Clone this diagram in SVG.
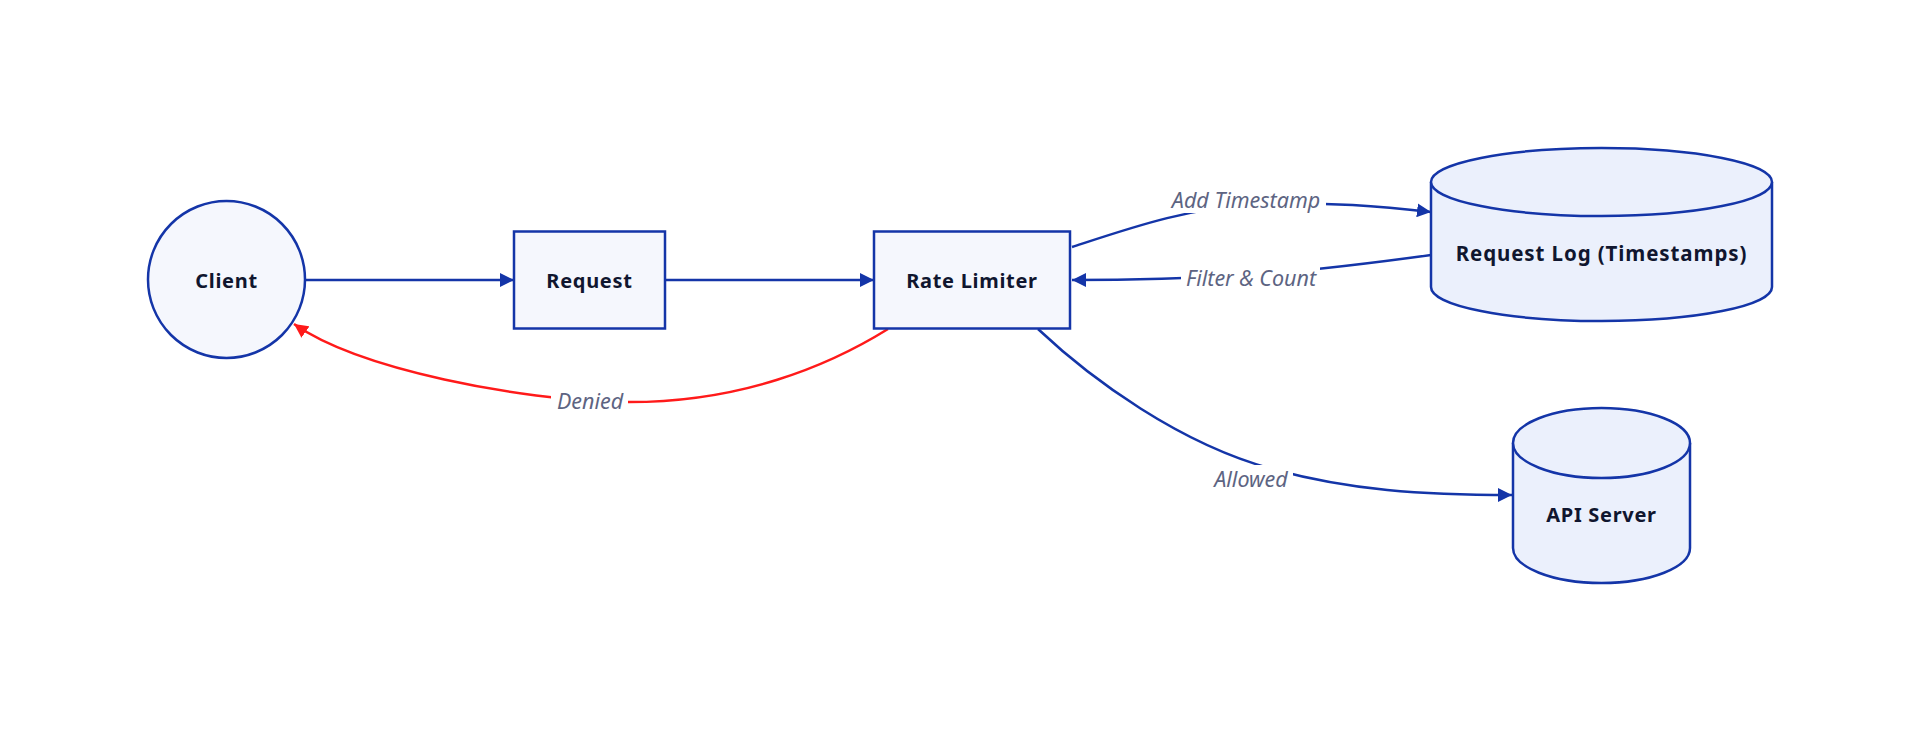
<svg xmlns="http://www.w3.org/2000/svg" width="1920" height="731" viewBox="0 0 1920 731">
<style>
.node{fill:#f5f7fd;stroke:#1435a8;stroke-width:2.5}
.db{fill:#ebf0fc;stroke:#1435a8;stroke-width:2.5}
.nt{font-family:"Source Sans Pro","Noto Sans",sans-serif;font-weight:bold;font-size:20px;fill:#10162f;text-anchor:middle;dominant-baseline:central;letter-spacing:0.7px}
.e{fill:none;stroke:#1435a8;stroke-width:2.5}
.red{fill:none;stroke:#ff1a1a;stroke-width:2.5}
.lb{fill:#ffffff}
.lt{font-family:"Source Sans Pro","Noto Sans",sans-serif;font-style:italic;font-size:21.5px;fill:#5d6482;text-anchor:middle;dominant-baseline:central}
</style>
<defs>
<marker id="ab" viewBox="0 0 14 14" refX="14" refY="7" markerWidth="14" markerHeight="14" markerUnits="userSpaceOnUse" orient="auto">
<path d="M0,0 L14,7 L0,14 Z" fill="#1435a8"/>
</marker>
<marker id="ar" viewBox="0 0 14 14" refX="14" refY="7" markerWidth="14" markerHeight="14" markerUnits="userSpaceOnUse" orient="auto">
<path d="M0,0 L14,7 L0,14 Z" fill="#ff1a1a"/>
</marker>
</defs>
<rect width="1920" height="731" fill="#ffffff"/>
<g id="connectors">
<path class="e" d="M306,280 L514,280" marker-end="url(#ab)"/>
<path class="e" d="M665,280 L874,280" marker-end="url(#ab)"/>
<path class="e" d="M1072,247 C1130,228 1190,207 1260,204 C1330,202 1380,206 1431,212" marker-end="url(#ab)"/>
<path class="e" d="M1431,255 C1380,262 1320,270 1250,275 C1180,279 1120,280 1072,280" marker-end="url(#ab)"/>
<path class="e" d="M1038,329 C1090,378 1180,445 1276,470 C1350,490 1420,495 1512,495" marker-end="url(#ab)"/>
<path class="red" d="M888,329 C830,365 740,404 620,402 C520,400 360,370 294,324" marker-end="url(#ar)"/>
<rect class="lb" x="1166" y="186" width="160" height="27"/>
<text class="lt" x="1246" y="199">Add Timestamp</text>
<rect class="lb" x="1181" y="264" width="139" height="27"/>
<text class="lt" x="1251" y="277">Filter &amp; Count</text>
<rect class="lb" x="1209" y="465" width="84" height="27"/>
<text class="lt" x="1251" y="478">Allowed</text>
<rect class="lb" x="551" y="387" width="77" height="27"/>
<text class="lt" x="590" y="400">Denied</text>
</g>
<g id="client">
<circle class="node" cx="226.5" cy="279.5" r="78.5"/>
<text class="nt" x="226.5" y="280">Client</text>
</g>
<g id="request">
<rect class="node" x="514" y="231.5" width="151" height="97"/>
<text class="nt" x="589.5" y="280">Request</text>
</g>
<g id="rate-limiter">
<rect class="node" x="874" y="231.5" width="196" height="97"/>
<text class="nt" x="972" y="280">Rate Limiter</text>
</g>
<g id="request-log">
<path class="db" d="M1431,182 A170.5,34 0 0 1 1772,182 L1772,287 A170.5,34 0 0 1 1431,287 Z"/>
<path class="db" d="M1431,182 A170.5,34 0 0 0 1772,182" fill="none"/>
<text class="nt" x="1601.5" y="253" style="font-size:20.5px;letter-spacing:0.9px">Request Log (Timestamps)</text>
</g>
<g id="api-server">
<path class="db" d="M1513,443 A88.5,35 0 0 1 1690,443 L1690,548 A88.5,35 0 0 1 1513,548 Z"/>
<path class="db" d="M1513,443 A88.5,35 0 0 0 1690,443" fill="none"/>
<text class="nt" x="1601.5" y="514">API Server</text>
</g>
</svg>
